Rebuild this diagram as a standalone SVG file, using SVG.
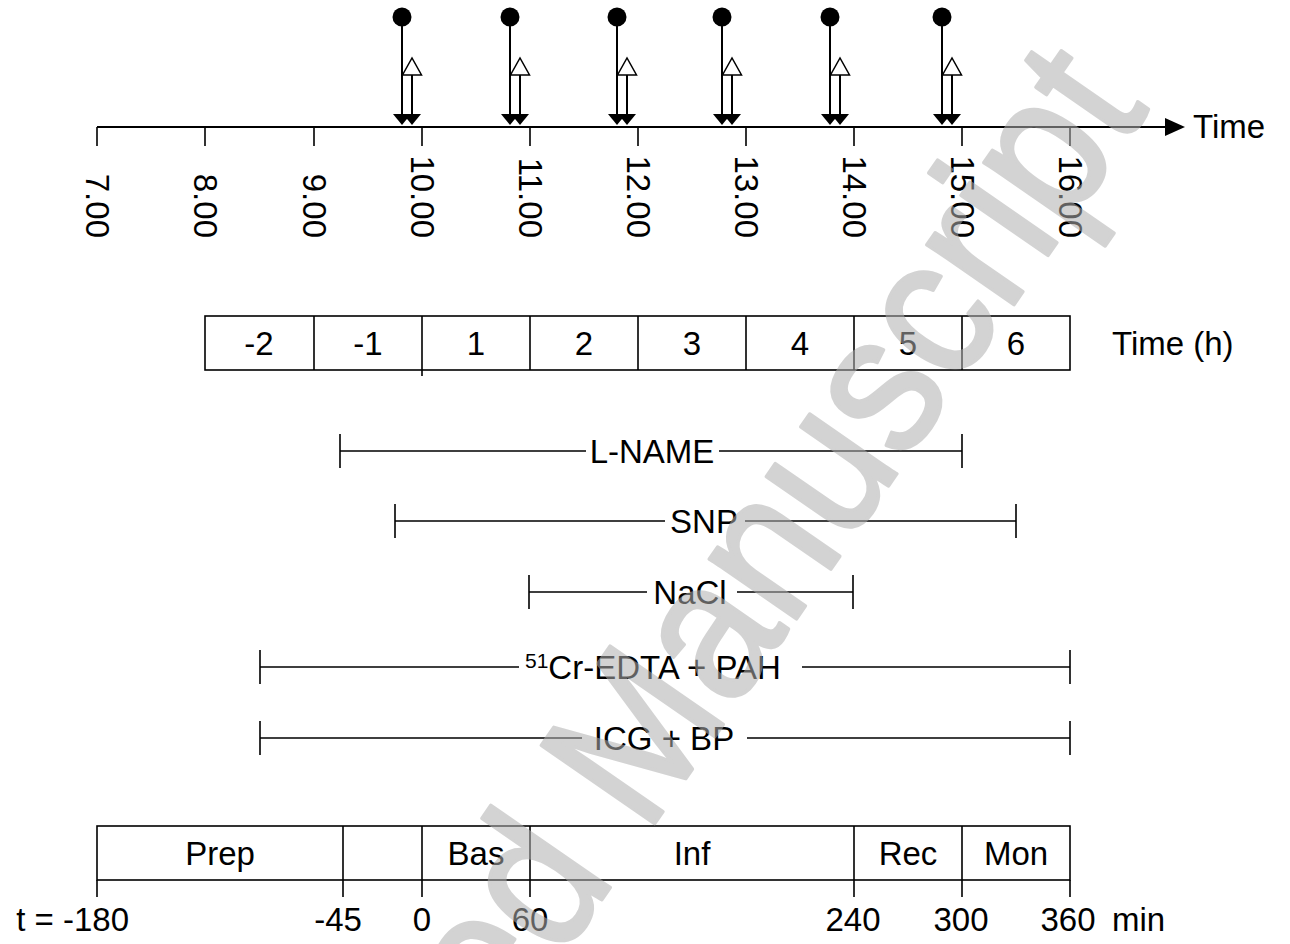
<svg xmlns="http://www.w3.org/2000/svg" width="1290" height="944" viewBox="0 0 1290 944">
<style>
text{font-family:"Liberation Sans",Arial,sans-serif;font-size:33px;fill:#000}
.mid{text-anchor:middle}
.end{text-anchor:end}
.ln{stroke:#000;stroke-width:1.6;fill:none}
.ax{stroke:#000;stroke-width:2;fill:none}
.box{stroke:#000;stroke-width:1.6;fill:#fff}
.wm{font-size:200px;fill:#b0b0b0;stroke:#b0b0b0;stroke-width:3.5;stroke-linejoin:round}
</style>
<defs>
<g id="mk">
<circle cx="0" cy="17" r="9.5" fill="#000"/>
<line x1="0" y1="17" x2="0" y2="115" class="ax"/>
<line x1="10" y1="75" x2="10" y2="115" class="ax"/>
<polygon points="-9,114 9,114 0,125" fill="#000"/>
<polygon points="1,114 19,114 10,125" fill="#000"/>
<polygon points="0.5,75 19.5,75 10,58" fill="#fff" stroke="#000" stroke-width="1.5"/>
</g>
</defs>

<g id="time-axis">
<line x1="97" y1="127" x2="1166" y2="127" class="ax"/>
<polygon points="1165,118 1185,127 1165,136" fill="#000"/>
<text x="1193" y="138">Time</text>
<path class="ln" d="M97,127V146M205,127V146M314,127V146M422,127V146M530,127V146M638,127V146M746,127V146M854,127V146M962,127V146M1070,127V146"/>
<text class="end" transform="translate(86,238) rotate(90)">7.00</text>
<text class="end" transform="translate(194,238) rotate(90)">8.00</text>
<text class="end" transform="translate(303,238) rotate(90)">9.00</text>
<text class="end" transform="translate(411,238) rotate(90)">10.00</text>
<text class="end" transform="translate(519,238) rotate(90)">11.00</text>
<text class="end" transform="translate(627,238) rotate(90)">12.00</text>
<text class="end" transform="translate(735,238) rotate(90)">13.00</text>
<text class="end" transform="translate(843,238) rotate(90)">14.00</text>
<text class="end" transform="translate(951,238) rotate(90)">15.00</text>
<text class="end" transform="translate(1059,238) rotate(90)">16.00</text>
</g>

<g id="markers">
<use href="#mk" x="402"/>
<use href="#mk" x="510"/>
<use href="#mk" x="617"/>
<use href="#mk" x="722"/>
<use href="#mk" x="830"/>
<use href="#mk" x="942"/>
</g>

<g id="hours">
<rect x="205" y="316" width="865" height="54" class="box"/>
<path class="ln" d="M314,316V370M422,316V376M530,316V370M638,316V370M746,316V370M854,316V370M962,316V370"/>
<text class="mid" x="259" y="355">-2</text>
<text class="mid" x="368" y="355">-1</text>
<text class="mid" x="476" y="355">1</text>
<text class="mid" x="584" y="355">2</text>
<text class="mid" x="692" y="355">3</text>
<text class="mid" x="800" y="355">4</text>
<text class="mid" x="908" y="355">5</text>
<text class="mid" x="1016" y="355">6</text>
<text x="1112" y="355">Time (h)</text>
</g>

<g id="lname">
<path class="ln" d="M340,434V468M340,451H586M719,451H962M962,434V468"/>
<text class="mid" x="652" y="462.5">L-NAME</text>
</g>
<g id="snp">
<path class="ln" d="M395,504V538M395,521H665M745,521H1016M1016,504V538"/>
<text class="mid" x="704" y="532.5">SNP</text>
</g>
<g id="nacl">
<path class="ln" d="M529,575V609M529,592H647M737,592H853M853,575V609"/>
<text class="mid" x="690" y="603.5">NaCl</text>
</g>
<g id="cr-edta">
<path class="ln" d="M260,650V684M260,667H519M802,667H1070M1070,650V684"/>
<text x="525" y="678.5"><tspan font-size="21" dy="-11">51</tspan><tspan dy="11">Cr-EDTA + PAH</tspan></text>
</g>
<g id="icg">
<path class="ln" d="M260,721V755M260,738H582M747,738H1070M1070,721V755"/>
<text class="mid" x="664" y="749.5">ICG + BP</text>
</g>

<g id="protocol">
<rect x="97" y="826" width="973" height="54" class="box"/>
<path class="ln" d="M343,826V897M422,826V897M530,826V897M854,826V897M962,826V897M97,880V897M1070,880V897"/>
<text class="mid" x="220" y="865">Prep</text>
<text class="mid" x="476" y="865">Bas</text>
<text class="mid" x="692" y="865">Inf</text>
<text class="mid" x="908" y="865">Rec</text>
<text class="mid" x="1016" y="865">Mon</text>
<text class="end" x="129" y="931">t = -180</text>
<text class="mid" x="338" y="931">-45</text>
<text class="mid" x="422" y="931">0</text>
<text class="mid" x="530" y="931">60</text>
<text class="mid" x="853" y="931">240</text>
<text class="mid" x="961" y="931">300</text>
<text class="mid" x="1068" y="931">360</text>
<text x="1112" y="931">min</text>
</g>

<g id="watermark" opacity="0.55" transform="translate(646,836) rotate(-55.3) scale(0.905,1)">
<text class="wm end" x="-56" y="0">Accepted</text>
<text class="wm" x="0" y="0">Manuscript</text>
</g>
</svg>
